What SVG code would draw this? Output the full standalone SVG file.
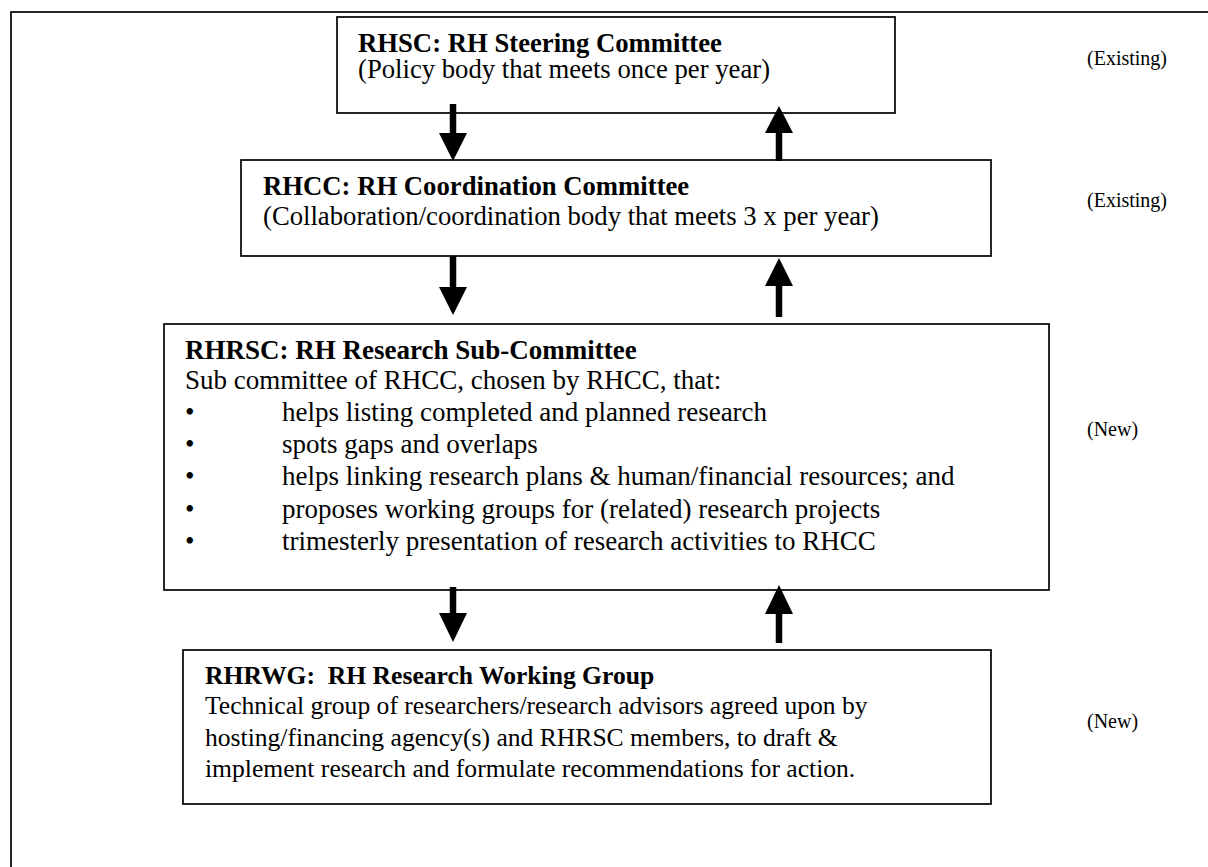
<svg xmlns="http://www.w3.org/2000/svg" width="1208" height="867" viewBox="0 0 1208 867">
<style>
.box{fill:#fff;stroke:#000;stroke-width:1.7}
.t{font-family:"Liberation Serif","Times New Roman",serif;fill:#000}
.b{font-weight:bold}
.s{font-size:20px}
.shaft{stroke:#000;stroke-width:6.5;fill:none}
.head{fill:#000}
</style>
<rect x="0" y="0" width="1208" height="867" fill="#fff"/>
<rect x="11" y="12" width="1220" height="880" fill="none" stroke="#000" stroke-width="1.7"/>

<g id="rhsc">
<rect class="box" x="337" y="17" width="558" height="96"/>
<text class="t b" x="358" y="52" font-size="26.7">RHSC: RH Steering Committee</text>
<text class="t" x="358" y="78" font-size="26.7">(Policy body that meets once per year)</text>
</g>

<g id="rhcc">
<rect class="box" x="241" y="160" width="750" height="96"/>
<text class="t b" x="263" y="195" font-size="26.7">RHCC: RH Coordination Committee</text>
<text class="t" x="263" y="225" font-size="26.7">(Collaboration/coordination body that meets 3 x per year)</text>
</g>

<g id="rhrsc">
<rect class="box" x="164" y="324" width="885" height="266"/>
<text class="t b" x="185" y="359" font-size="27">RHRSC: RH Research Sub-Committee</text>
<text class="t" x="185" y="389" font-size="27">Sub committee of RHCC, chosen by RHCC, that:</text>
<g class="t" font-size="27">
<text x="185" y="421">•</text><text x="282" y="421">helps listing completed and planned research</text>
<text x="185" y="453">•</text><text x="282" y="453">spots gaps and overlaps</text>
<text x="185" y="485">•</text><text x="282" y="485">helps linking research plans &amp; human/financial resources; and</text>
<text x="185" y="518">•</text><text x="282" y="518">proposes working groups for (related) research projects</text>
<text x="185" y="550">•</text><text x="282" y="550">trimesterly presentation of research activities to RHCC</text>
</g>
</g>

<g id="rhrwg">
<rect class="box" x="183" y="650" width="808" height="154"/>
<text class="t b" x="205" y="684" font-size="25.6" xml:space="preserve">RHRWG:  RH Research Working Group</text>
<text class="t" x="205" y="714" font-size="25.6">Technical group of researchers/research advisors agreed upon by</text>
<text class="t" x="205" y="746" font-size="25.6">hosting/financing agency(s) and RHRSC members, to draft &amp;</text>
<text class="t" x="205" y="777" font-size="25.6">implement research and formulate recommendations for action.</text>
</g>

<g id="labels">
<text class="t s" x="1087" y="65">(Existing)</text>
<text class="t s" x="1087" y="207">(Existing)</text>
<text class="t s" x="1087" y="436">(New)</text>
<text class="t s" x="1087" y="728">(New)</text>
</g>

<g id="connectors">
<line class="shaft" x1="453" y1="104" x2="453" y2="134"/>
<polygon class="head" points="439,133 467,133 453,161"/>
<line class="shaft" x1="779" y1="132" x2="779" y2="161"/>
<polygon class="head" points="765,133 793,133 779,106"/>

<line class="shaft" x1="453" y1="256" x2="453" y2="288"/>
<polygon class="head" points="439,287 467,287 453,315"/>
<line class="shaft" x1="779" y1="285" x2="779" y2="317"/>
<polygon class="head" points="765,286 793,286 779,258"/>

<line class="shaft" x1="453" y1="587" x2="453" y2="614"/>
<polygon class="head" points="439,613 467,613 453,642"/>
<line class="shaft" x1="779" y1="613" x2="779" y2="643"/>
<polygon class="head" points="765,614 793,614 779,585"/>
</g>
</svg>
